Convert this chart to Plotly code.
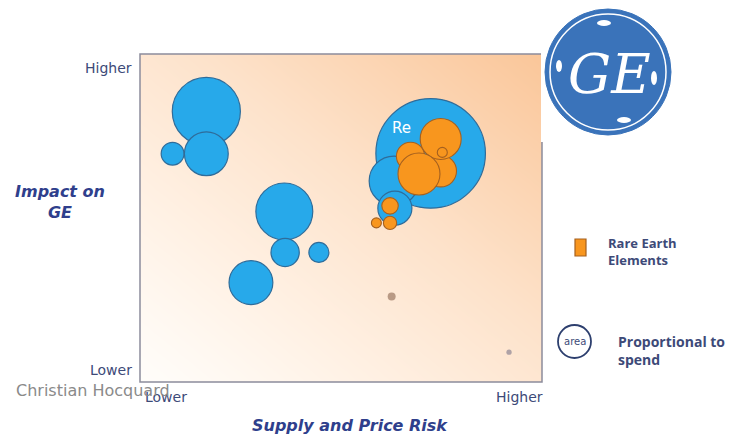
import numpy as np
import plotly.graph_objects as go

# ---- data -------------------------------------------------------------
# position on a 0-100 scale (x: supply & price risk, y: impact on GE)
# spend drives bubble area
blue_x = [72.3, 63.2, 63.4, 8.1, 16.5, 16.5, 35.9, 36.1, 44.5, 27.6]
blue_y = [69.7, 61.3, 53.0, 69.6, 82.5, 69.6, 52.0, 39.5, 39.5, 30.3]
blue_spend = [300, 62, 29, 13, 116, 48, 81, 20, 10, 48]

ree_x = [67.3, 74.8, 74.8, 69.4, 75.2, 62.2, 58.8, 62.2]
ree_y = [68.8, 64.3, 74.1, 63.4, 70.0, 53.7, 48.5, 48.5]
ree_spend = [20, 25, 42, 44, 2.5, 6.8, 2.5, 4.4]

minor_x = [62.6, 91.8]
minor_y = [26.1, 9.1]
minor_spend = [1.6, 0.7]
minor_colors = ["#9b7763", "#8d8594"]

x_ticks = ["Lower", "Higher"]
y_ticks = ["Lower", "Higher"]

SIZEREF = 0.05

# plot area in pixels
W, H = 737, 438
L, R, T, B = 140, 542, 54, 382


def px(x):
    return (x - L) / (R - L)


def py(y):
    return (B - y) / (B - T)


fig = go.Figure()

# soft peach background that deepens toward the upper right
gx = np.linspace(0, 100, 61)
gy = np.linspace(0, 100, 61)
GX, GY = np.meshgrid(gx, gy)
shade = (GX / 100 * 0.5 + GY / 100 * 0.5) ** 1.1
fig.add_trace(go.Heatmap(
    x=gx, y=gy, z=shade, zsmooth="best", showscale=False, hoverinfo="skip",
    zmin=0, zmax=1,
    colorscale=[[0, "#fffdfa"], [0.25, "#fff1e4"], [0.55, "#fde2ca"], [1, "#fac699"]],
))

fig.add_trace(go.Scatter(
    x=blue_x, y=blue_y, mode="markers", hoverinfo="skip",
    marker=dict(size=blue_spend, sizemode="area", sizeref=SIZEREF,
                color="#27a9ea", opacity=1,
                line=dict(color="#2f6c9a", width=1.2)),
))
fig.add_trace(go.Scatter(
    x=ree_x, y=ree_y, mode="markers", hoverinfo="skip",
    marker=dict(size=ree_spend, sizemode="area", sizeref=SIZEREF,
                color="#f8961e", opacity=1,
                line=dict(color="#a5601f", width=1.1)),
))
fig.add_trace(go.Scatter(
    x=minor_x, y=minor_y, mode="markers", hoverinfo="skip",
    marker=dict(size=minor_spend, sizemode="area", sizeref=SIZEREF,
                color=minor_colors, line=dict(width=0)),
))

shapes = []
# plot frame
shapes.append(dict(type="rect", xref="paper", yref="paper", x0=0, x1=1, y0=0, y1=1,
                   line=dict(color="#8c8c9c", width=1.5), layer="above"))
# white backing behind the logo
shapes.append(dict(type="rect", xref="paper", yref="paper",
                   x0=px(541), x1=px(W + 5), y0=py(142), y1=py(-5),
                   fillcolor="white", line=dict(width=0), layer="above"))
# GE monogram disc
cx, cy, r = 608, 72, 63
shapes.append(dict(type="circle", xref="paper", yref="paper",
                   x0=px(cx - r), x1=px(cx + r), y0=py(cy + r), y1=py(cy - r),
                   fillcolor="#3a73ba", line=dict(color="#3a73ba", width=1), layer="above"))
r2 = 58
shapes.append(dict(type="circle", xref="paper", yref="paper",
                   x0=px(cx - r2), x1=px(cx + r2), y0=py(cy + r2), y1=py(cy - r2),
                   fillcolor="rgba(0,0,0,0)", line=dict(color="white", width=1.5), layer="above"))
# white flourishes just inside the rim
for fx, fy, fw, fh in [(604, 23, 7, 3), (654, 78, 3, 7), (624, 120, 7, 3), (559, 66, 3, 6)]:
    shapes.append(dict(type="circle", xref="paper", yref="paper",
                       x0=px(fx - fw), x1=px(fx + fw), y0=py(fy + fh), y1=py(fy - fh),
                       fillcolor="white", line=dict(width=0), layer="above"))
# legend swatch for rare earth elements
shapes.append(dict(type="rect", xref="paper", yref="paper",
                   x0=px(575), x1=px(586), y0=py(256), y1=py(239),
                   fillcolor="#f8961e", line=dict(color="#a5601f", width=1.2), layer="above"))
# legend circle for area
shapes.append(dict(type="circle", xref="paper", yref="paper",
                   x0=px(558), x1=px(591), y0=py(358), y1=py(325),
                   fillcolor="white", line=dict(color="#2d3f6e", width=1.8), layer="above"))

label_col = "#3d4a78"
title_col = "#2f3f8c"
ann = []


def text(x, y, s, size, color, xanchor="center", family="DejaVu Sans", align="center"):
    ann.append(dict(x=px(x), y=py(y), xref="paper", yref="paper", text=s,
                    showarrow=False, xanchor=xanchor, yanchor="middle", align=align,
                    font=dict(size=size, color=color, family=family)))


# axis end labels
text(134, 68, y_ticks[1], 14, label_col, xanchor="right")
text(134, 370, y_ticks[0], 14, label_col, xanchor="right")
text(166, 397, x_ticks[0], 14, label_col)
text(519, 397, x_ticks[1], 14, label_col)
# axis titles
text(60, 202, "<b><i>Impact on<br>GE</i></b>", 16, title_col)
text(350, 425, "<b><i>Supply and Price Risk</i></b>", 16, title_col)
# credit
text(14, 390, "Christian Hocquard", 16, "#8a8a8a", xanchor="left")
# in-chart label
text(401, 128, "Re", 15, "white")
# legend text
text(606, 251, "<b>Rare Earth<br>Elements</b>", 13, label_col, xanchor="left",
     family="Open Sans", align="left")
text(616, 350, "<b>Proportional to<br>spend</b>", 14, label_col, xanchor="left",
     family="Open Sans", align="left")
text(574.5, 341.5, "area", 10, label_col)
# GE monogram
text(cx + 1, cy + 2, "<i>GE</i>", 54, "white", family="DejaVu Serif")

fig.update_layout(
    width=W, height=H,
    margin=dict(l=L, r=W - R, t=T, b=H - B),
    paper_bgcolor="white", plot_bgcolor="white",
    showlegend=False,
    xaxis=dict(range=[0, 100], showgrid=False, zeroline=False, showticklabels=False,
               fixedrange=True, showline=False),
    yaxis=dict(range=[0, 100], showgrid=False, zeroline=False, showticklabels=False,
               fixedrange=True, showline=False),
    shapes=shapes, annotations=ann,
)

fig.write_html("out.html", config={"displayModeBar": False})
